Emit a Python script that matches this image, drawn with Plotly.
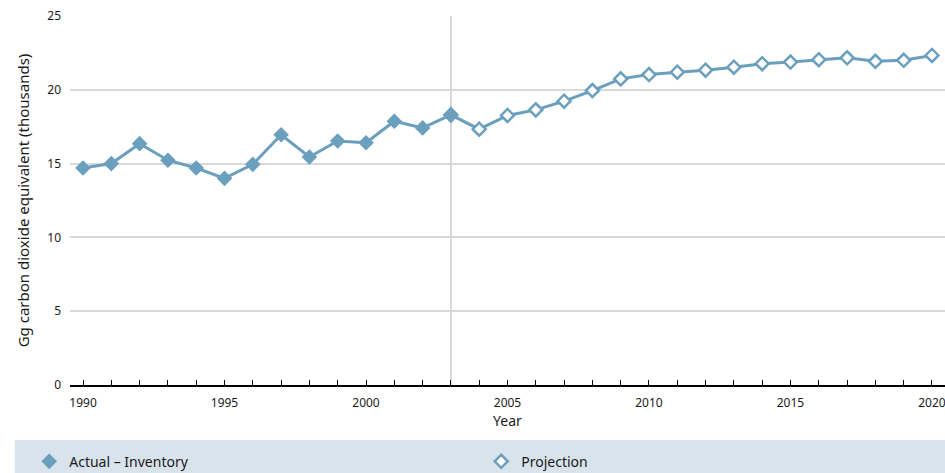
import plotly.graph_objects as go

actual_years = list(range(1990, 2004))
actual_values = [14.7, 15.0, 16.35, 15.23, 14.7, 14.0, 14.95, 16.95, 15.45, 16.53, 16.41, 17.87, 17.42, 18.3]

proj_years = list(range(2003, 2021))
proj_values = [18.3, 17.33, 18.26, 18.64, 19.23, 19.95, 20.74, 21.03, 21.19, 21.33, 21.53,
               21.77, 21.88, 22.04, 22.17, 21.93, 22.0, 22.33]

divider_year = 2003
color = "#6a9fbd"
font = "Noto Sans"

proj_marker = dict(symbol="diamond", size=10, color="white", line=dict(color=color, width=2.5))
act_marker = dict(symbol="diamond", size=12, color=color, line=dict(width=0))

fig = go.Figure()
fig.add_trace(go.Scatter(
    x=proj_years, y=proj_values, name="Projection", mode="lines+markers",
    line=dict(color=color, width=3), marker=proj_marker, showlegend=False,
))
fig.add_trace(go.Scatter(
    x=actual_years, y=actual_values, name="Actual – Inventory", mode="lines+markers",
    line=dict(color=color, width=3), marker=act_marker, showlegend=False,
))
# legend entries (marker only)
fig.add_trace(go.Scatter(x=[None], y=[None], name="Actual – Inventory", mode="markers",
                         marker=act_marker, showlegend=True))
fig.add_trace(go.Scatter(x=[None], y=[None], name="Projection", mode="markers",
                         marker=proj_marker, showlegend=True))

fig.add_shape(type="line", xref="x", yref="paper", x0=divider_year, x1=divider_year, y0=0, y1=1,
              line=dict(color="#cccccc", width=1.5), layer="below")
fig.add_shape(type="rect", xref="paper", yref="paper", x0=-0.063, x1=1.0, y0=-0.2385, y1=-0.149,
              fillcolor="#d9e3ec", line=dict(width=0), layer="below")

fig.update_layout(
    width=945, height=473,
    margin=dict(l=70, r=0, t=16, b=88, autoexpand=False),
    plot_bgcolor="white", paper_bgcolor="white",
    font=dict(family=font, size=12, color="#1a1a1a"),
    showlegend=True,
    legend=dict(orientation="h", x=-0.0466, xanchor="left", y=-0.208, yanchor="middle",
                bgcolor="rgba(0,0,0,0)",
                entrywidth=407, entrywidthmode="pixels",
                font=dict(size=14, family=font)),
    xaxis=dict(range=[1989.54, 2020.46], dtick=5, tick0=1990, ticks="inside", ticklen=5,
               tickcolor="black", showline=True, linecolor="black", linewidth=1.5,
               showgrid=False, zeroline=False, ticklabeloverflow="allow", automargin=False,
               minor=dict(dtick=1, ticks="inside", ticklen=5, tickcolor="black", showgrid=False),
               title=dict(text="Year", font=dict(size=14), standoff=6),
               tickfont=dict(size=12), ticklabelstandoff=6),
    yaxis=dict(range=[0, 25], dtick=5, showgrid=True, gridcolor="#d9d9d9", gridwidth=1.5,
               zeroline=False, showline=False, ticks="", ticklabelstandoff=8, automargin=False,
               title=dict(text="Gg carbon dioxide equivalent (thousands)", font=dict(size=15), standoff=14),
               tickfont=dict(size=12)),
)

fig.write_html("out.html", config={"displayModeBar": False},
               post_script="document.body.style.margin='0';document.body.style.overflow='hidden';")
